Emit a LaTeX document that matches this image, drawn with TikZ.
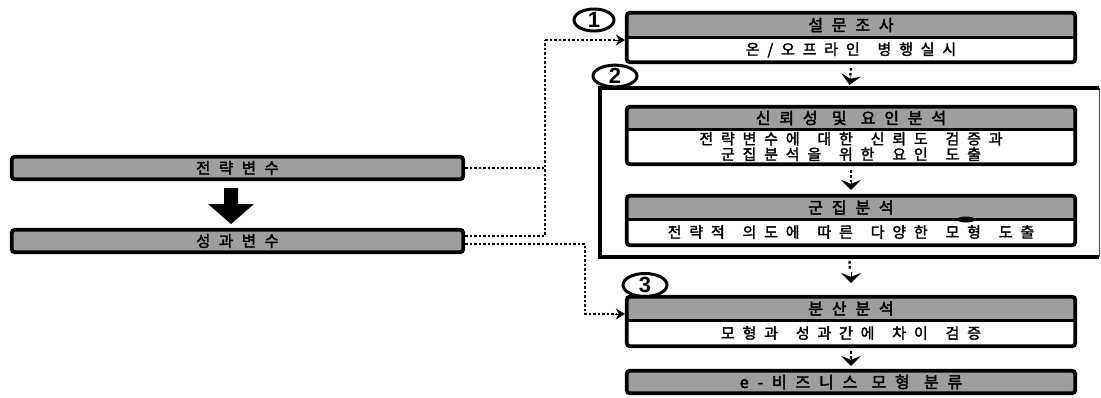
\documentclass[tikz,border=0pt]{standalone}
\usepackage{fontspec}
\usetikzlibrary{arrows.meta,shapes.geometric,fit}
\setmainfont{Liberation Sans}
\newfontfamily\krh{Noto Sans CJK KR}[FakeBold=2.5,LetterSpace=55,WordSpace=1.15]
\newfontfamily\krs{Noto Sans CJK KR}[FakeBold=2,LetterSpace=52,WordSpace=1.6]
\tikzset{
  hdr/.style={fill=black!38, minimum width=448pt, inner sep=0pt, text=black,
    font=\krh\fontsize{16}{17}\selectfont},
  subt/.style={fill=white, minimum width=448pt, inner sep=0pt, align=center,
    font=\krs\fontsize{15}{15.5}\selectfont},
  boxframe/.style={draw, line width=3.8pt, rounded corners=3pt, inner sep=0pt},
  divider/.style={line width=2.8pt},
  conn/.style={line width=2.2pt, dash pattern=on 2.5pt off 2pt},
  conntip/.style={-{Stealth[length=9pt,width=11pt,inset=3pt]}},
  stepstem/.style={line width=2.4pt, dash pattern=on 2.5pt off 2.5pt},
  steptip/.style={-{Stealth[length=10pt,width=20pt,inset=4pt]}},
  numoval/.style={ellipse, draw, line width=3pt, inner sep=0pt,
    font=\fontsize{22}{22}\bfseries\selectfont}
}
\begin{document}
\begin{tikzpicture}[x=1pt,y=-1pt]
\useasboundingbox (0,0) rectangle (1101,397);

% ---------- left boxes ----------
\node[hdr, minimum width=451pt, minimum height=22pt, font=\krh\fontsize{15.5}{16}\selectfont] (v1) at (237.5,168) {전략변수};
\node[boxframe, fit=(v1)] (v1f) {};
\node[hdr, minimum width=451pt, minimum height=22pt, font=\krh\fontsize{15.5}{16}\selectfont] (v2) at (237.5,241) {성과변수};
\node[boxframe, fit=(v2)] (v2f) {};
% big arrow
\fill (224,188) -- (238,188) -- (238,204) -- (254,204) -- (231,224) -- (208,204) -- (224,204) -- cycle;

% ---------- box 1 ----------
\node[hdr, minimum height=24pt] (b1h) at (851,25) {설문조사};
\node[subt, minimum height=24pt] (b1s) at (851,50) {온/오프라인 병행실시};
\node[boxframe, fit=(b1h)(b1s)] (b1) {};
\draw[divider] (b1h.south west) -- (b1h.south east);
\node[numoval, minimum width=40pt, minimum height=22pt] (n1) at (594,20) {1};

% ---------- frame 2 ----------
\node[minimum width=499pt, minimum height=169pt, inner sep=0pt] (f2) at (849.5,172.5) {};
\draw[line width=3.8pt] (f2.north east) -- (f2.north west) -- (f2.south west) -- (f2.south east);
\draw[line width=1.2pt, black!70] (f2.north east) -- (f2.south east);
\node[numoval, fill=white, minimum width=44pt, minimum height=21pt] (n2) at (615,76) {2};

% ---------- box 2 ----------
\node[hdr, minimum height=22pt] (b2h) at (851,118) {신뢰성 및 요인분석};
\node[subt, minimum height=35pt] (b2s) at (851,146.5) {전략변수에 대한 신뢰도 검증과\\군집분석을 위한 요인 도출};
\node[boxframe, fit=(b2h)(b2s)] (b2) {};
\draw[divider] (b2h.south west) -- (b2h.south east);

% ---------- box 3 ----------
\node[hdr, minimum height=23pt] (b3h) at (851,207.5) {군집분석};
\node[subt, minimum height=26pt] (b3s) at (851,232) {전략적 의도에 따른 다양한 모형 도출};
\node[boxframe, fit=(b3h)(b3s)] (b3) {};
\draw[divider] (b3h.south west) -- (b3h.south east);
\fill (966,219.5) ellipse (9pt and 3pt);

% ---------- box 4 ----------
\node[hdr, minimum height=23pt] (b4h) at (851,308.5) {분산분석};
\node[subt, minimum height=26pt] (b4s) at (851,333) {모형과 성과간에 차이 검증};
\node[boxframe, fit=(b4h)(b4s)] (b4) {};
\draw[divider] (b4h.south west) -- (b4h.south east);
\node[numoval, minimum width=44pt, minimum height=23pt] (n3) at (645,285) {3};

% ---------- box 5 ----------
\node[hdr, minimum height=22pt] (b5h) at (851,382) {e-비즈니스 모형 분류};
\node[boxframe, fit=(b5h)] (b5) {};

% ---------- step arrows ----------
\draw[stepstem, shorten >=8pt] ([yshift=-4pt]b1.south) -- ([yshift=4pt]f2.north);
\coordinate (a1) at (851,76);
\draw[steptip] (a1) -- ([yshift=3pt]f2.north);

\draw[stepstem, shorten >=12pt] ([yshift=-4pt]b2.south) -- (b3.north);
\coordinate (a2) at (851,181);
\draw[steptip] (a2) -- ([yshift=4pt]b3.north);

\draw[stepstem, shorten >=24pt] ([yshift=-4pt]f2.south) -- (b4.north);
\coordinate (a3) at (851,272);
\draw[steptip] (a3) -- ([yshift=12pt]b4.north);

\draw[stepstem, shorten >=10pt] ([yshift=-3pt]b4.south) -- (b5.north);
\coordinate (a4) at (851,356);
\draw[steptip] (a4) -- ([yshift=3pt]b5.north);

% ---------- dotted connectors ----------
\coordinate (c1) at (545,40);
\coordinate (c2) at (545,236);
\coordinate (c3) at (585,244);
\coordinate (c4) at (585,314);
\draw[conn] (v1f.east) -- (v1f.east -| c1);
\draw[conn] ([yshift=5pt]v2f.east) -- (c2) -- (c1);
\draw[conn] (c1) -- ([xshift=-9pt]c1 -| b1.west);
\draw[conntip] ([xshift=-10pt]c1 -| b1.west) -- (c1 -| b1.west);
\draw[conn] ([yshift=-3pt]v2f.east) -- (c3) -- (c4) -- ([xshift=-9pt]c4 -| b4.west);
\draw[conntip] ([xshift=-10pt]c4 -| b4.west) -- (c4 -| b4.west);
\end{tikzpicture}
\end{document}
